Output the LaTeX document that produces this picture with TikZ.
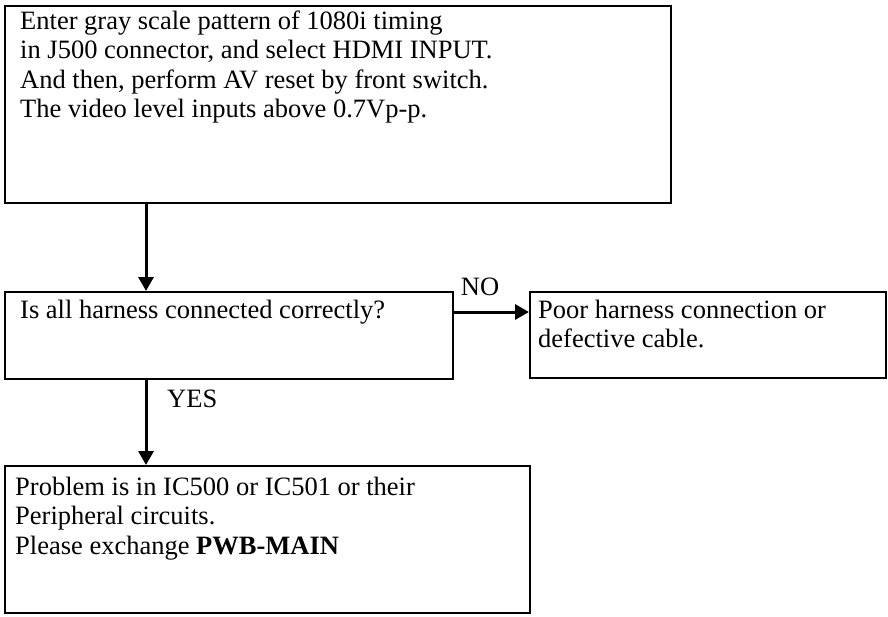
\documentclass[tikz,border=0pt]{standalone}
\usepackage{fontspec}
\setmainfont{Liberation Serif}
\usetikzlibrary{positioning, arrows.meta}

\begin{document}
\begin{tikzpicture}[x=1pt, y=-1pt,
        box/.style={draw, line width=1.5pt, rectangle, anchor=north west, inner sep=0pt},
        txt/.style={anchor=base west, align=left, inner sep=0pt, font=\fontsize{26.5}{29.5}\selectfont},
        lbl/.style={inner sep=0pt, font=\fontsize{26.5}{29.5}\selectfont},
        flow/.style={draw, -{Triangle[length=14pt, width=15pt]}, line width=3pt}
    ]
    \useasboundingbox (0,0) rectangle (888,616);

    % boxes
    \node[box, minimum width=666pt, minimum height=197pt] (entry) at (4,5) {};
    \node[box, minimum width=448pt, minimum height=87pt] (harness) at (4,291) {};
    \node[box, minimum width=356pt, minimum height=86pt] (cable) at (529,291) {};
    \node[box, minimum width=525pt, minimum height=147pt] (pwb) at (4,465) {};

    % texts (placed at the baseline of their last line)
    \node[txt] (entrytxt) at (20,117.5) {Enter gray scale pattern of 1080i timing\\
        in J500 connector, and select HDMI INPUT.\\
        And then, perform AV reset by front switch.\\
        The video level inputs above 0.7Vp-p.};
    \node[txt] (harnesstxt) at (20,318) {Is all harness connected correctly?};
    \node[txt] (cabletxt) at (538,347.5) {Poor harness connection or\\ defective cable.};
    \node[txt] (pwbtxt) at (15,554) {Problem is in IC500 or IC501 or their\\
        Peripheral circuits.\\
        Please exchange \textbf{PWB-MAIN}};

    % connectors
    \coordinate (down1) at ([xshift=142pt]entry.south west);
    \coordinate (down2) at ([xshift=142pt]harness.south west);
    \coordinate (side) at ([yshift=-21pt]harness.north east);
    \draw[flow] (down1) -- (down1 |- harness.north);
    \draw[flow] (side) -- (side -| cable.west);
    \draw[flow] (down2) -- (down2 |- pwb.north);

    \node[lbl, anchor=base] (nolbl) at (480,295) {NO};
    \node[lbl, anchor=base west] (yeslbl) at (167,407) {YES};
\end{tikzpicture}
\end{document}
